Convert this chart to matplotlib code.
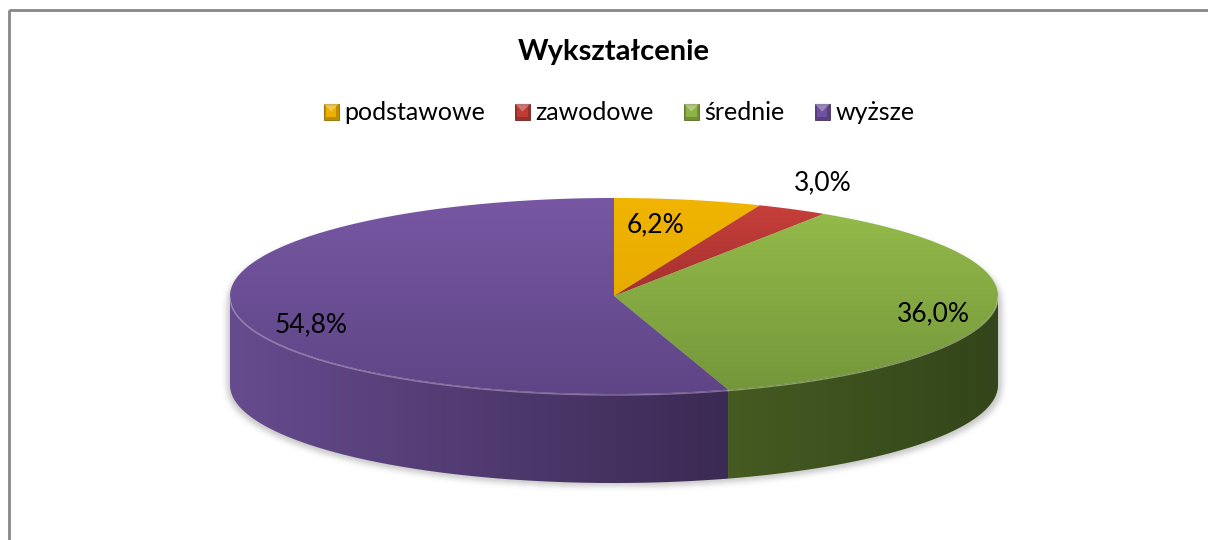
import numpy as np
import matplotlib.pyplot as plt
from matplotlib.patches import Polygon, Rectangle, Patch
from matplotlib.colors import LinearSegmentedColormap, to_rgb
from matplotlib.legend_handler import HandlerBase

plt.rcParams["font.family"] = ["Lato", "DejaVu Sans"]

categories = ["podstawowe", "zawodowe", "średnie", "wyższe"]
values = [6.2, 3.0, 36.0, 54.8]
value_labels = ["6,2%", "3,0%", "36,0%", "54,8%"]

# top face: (back colour, front colour); side wall: (left colour, right colour)
top_colors = [("#F0B400", "#E8AB00"), ("#C63F3A", "#A5302D"),
              ("#93BA4A", "#74973A"), ("#7757A3", "#5F4586")]
side_colors = [("#B08300", "#8A6600"), ("#8A2A27", "#6E201E"),
               ("#455B21", "#33451A"), ("#664B8E", "#3B2A53")]
legend_colors = ["#EDB100", "#BE3B36", "#8DB444", "#7050A0"]

# pie geometry in pixel units
CX, CY = 614, 296
RX, RY = 384, 98
DEPTH = 89
# label placement as multiples of the radius along the slice bisector
label_fx = [0.565, 1.17, 0.841, 0.798]
label_fy = [0.666, 1.222, 1.85, 2.45]


def rim(theta, dy=0.0):
    return CX + RX * np.sin(theta), CY - RY * np.cos(theta) + dy


def gradient_patch(ax, verts, c0, c1, horizontal, zorder):
    poly = Polygon(verts, closed=True, facecolor="none", edgecolor="none")
    ax.add_patch(poly)
    x0, x1 = verts[:, 0].min(), verts[:, 0].max()
    y0, y1 = verts[:, 1].min(), verts[:, 1].max()
    cmap = LinearSegmentedColormap.from_list("grad", [c0, c1])
    g = np.linspace(0, 1, 256)
    img = g[None, :] if horizontal else g[:, None]
    im = ax.imshow(img, cmap=cmap, extent=(x0, x1, y1, y0), origin="upper",
                   aspect="auto", interpolation="bilinear", zorder=zorder)
    im.set_clip_path(poly)


class BevelHandler(HandlerBase):
    """Square legend key with a bevelled look."""

    def create_artists(self, legend, orig_handle, xdescent, ydescent,
                       width, height, fontsize, trans):
        c = np.array(to_rgb(orig_handle.get_facecolor()))
        x0, y0 = -xdescent, -ydescent
        base = Rectangle((x0, y0), width, height, facecolor=c * 0.8,
                         edgecolor=c * 0.6, lw=0.6, transform=trans)
        inner = Rectangle((x0 + width * 0.15, y0 + height * 0.15), width * 0.7, height * 0.7,
                          facecolor=c, edgecolor="none", transform=trans)
        tri = Polygon([(x0, y0 + height), (x0 + width, y0 + height),
                       (x0 + width / 2, y0 + height / 2)],
                      facecolor=c * 0.5 + 0.5, edgecolor="none", alpha=0.6, transform=trans)
        return [base, inner, tri]


fig = plt.figure(figsize=(12.08, 5.40), dpi=100)
ax = fig.add_axes([0, 0, 1, 1])

# soft drop shadow under the pie body
yy, xx = np.mgrid[0:540, 0:1208].astype(float)
nx = (xx - CX) / (RX + 3)
inside = (nx ** 2 + ((yy - CY - 4) / RY) ** 2 <= 1) | \
         (nx ** 2 + ((yy - CY - DEPTH - 3) / RY) ** 2 <= 1) | \
         ((np.abs(nx) <= 1) & (yy >= CY + 4) & (yy <= CY + DEPTH + 3))
mask = inside.astype(float)
k = np.exp(-0.5 * (np.arange(-9, 10) / 3.0) ** 2)
k /= k.sum()
mask = np.apply_along_axis(lambda r: np.convolve(r, k, mode="same"), 1, mask)
mask = np.apply_along_axis(lambda c: np.convolve(c, k, mode="same"), 0, mask)
shadow = np.zeros((540, 1208, 4))
shadow[..., :3] = 0.45
shadow[..., 3] = 0.4 * mask
ax.imshow(shadow, extent=(0, 1208, 540, 0), origin="upper", aspect="auto", zorder=1)

bounds = 2 * np.pi * np.concatenate([[0], np.cumsum(values)]) / sum(values)

# side walls, front half only (theta between 90 and 270 degrees)
for i in range(len(values)):
    a0 = max(bounds[i], np.pi / 2)
    a1 = min(bounds[i + 1], 3 * np.pi / 2)
    if a1 <= a0:
        continue
    t = np.linspace(a0, a1, 200)
    tx, ty = rim(t)
    bx, by = rim(t[::-1], DEPTH)
    verts = np.column_stack([np.concatenate([tx, bx]), np.concatenate([ty, by])])
    gradient_patch(ax, verts, side_colors[i][0], side_colors[i][1], True, 2)
    hl = np.array(to_rgb(top_colors[i][0])) * 0.5 + 0.5
    ax.plot(tx, ty + 1, color=hl, lw=1.0, alpha=0.55, zorder=4)

# top faces
for i in range(len(values)):
    t = np.linspace(bounds[i], bounds[i + 1], 300)
    ex, ey = rim(t)
    verts = np.column_stack([np.concatenate([[CX], ex]), np.concatenate([[CY], ey])])
    gradient_patch(ax, verts, top_colors[i][0], top_colors[i][1], False, 3)

# percentage labels
for i, lab in enumerate(value_labels):
    mid = (bounds[i] + bounds[i + 1]) / 2
    lx = CX + RX * label_fx[i] * np.sin(mid)
    ly = CY - RY * label_fy[i] * np.cos(mid)
    ax.text(lx, ly, lab, ha="center", va="baseline", fontsize=19, color="black", zorder=6)

ax.text(614, 52, "Wykształcenie", ha="center", va="center", fontsize=21,
        fontweight="bold", color="black")

handles = [Patch(facecolor=c, edgecolor="none") for c in legend_colors]
ax.legend(handles, categories, ncol=4, loc="center", bbox_to_anchor=(619 / 1208, 1 - 113 / 540),
          frameon=False, fontsize=18, handlelength=0.6, handleheight=0.6,
          handletextpad=0.22, columnspacing=1.2, borderaxespad=0,
          handler_map={Patch: BevelHandler()})

# chart area border (right and bottom edges fall outside the canvas)
ax.add_patch(Rectangle((9, 10), 1300, 600, facecolor="none", edgecolor="#878787",
                       lw=2, zorder=0))

ax.set_xlim(0, 1208)
ax.set_ylim(540, 0)
ax.axis("off")

fig.savefig("out.png", dpi=100)
